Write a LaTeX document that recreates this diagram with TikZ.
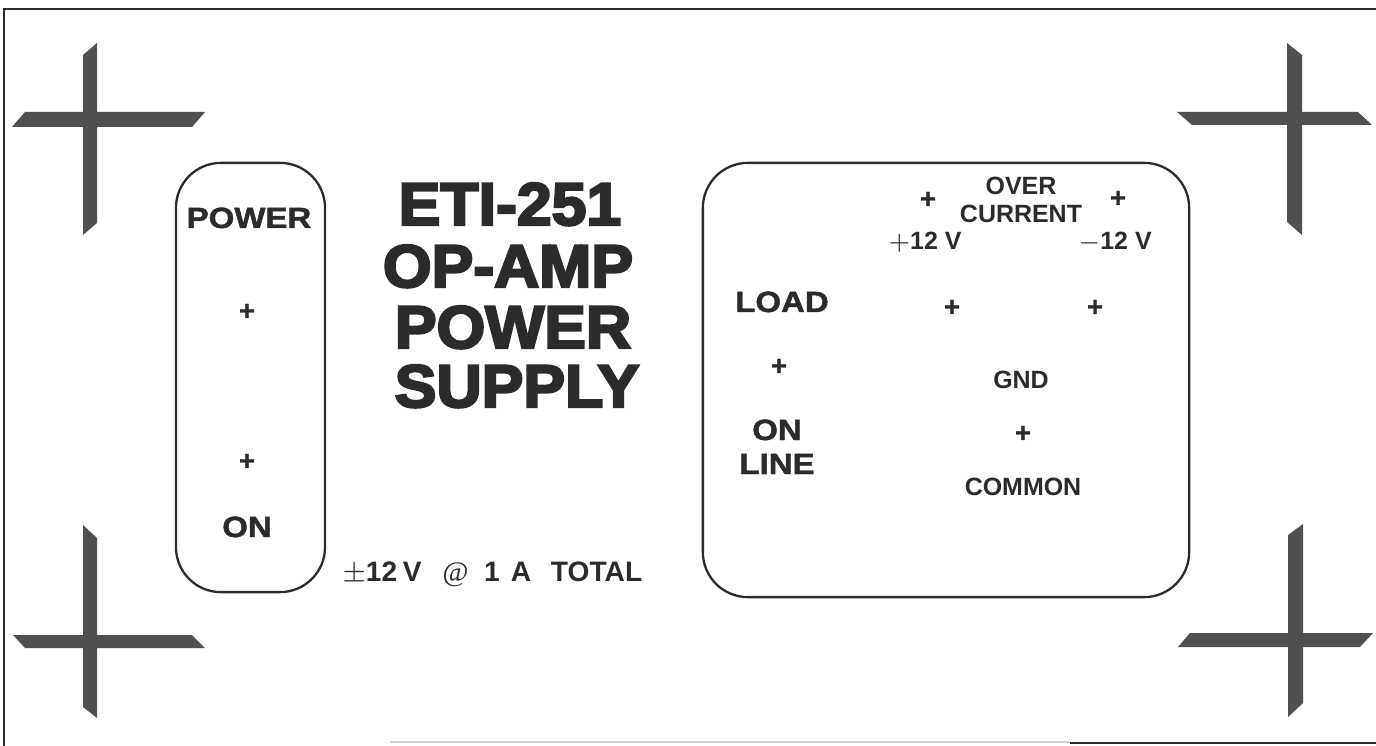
\documentclass[tikz,border=0pt]{standalone}
\usepackage{fontspec}
\setmainfont{Liberation Sans}
\newfontfamily\titlefont[FakeStretch=1.04,FakeBold=4]{Liberation Sans Bold}
\newfontfamily\widefont[FakeStretch=1.13,FakeBold=1.5]{Liberation Sans Bold}
\newfontfamily\jackfont[FakeBold=1]{Liberation Sans Bold}
\newfontfamily\atfont{Liberation Serif}
\usetikzlibrary{positioning}
\definecolor{ink}{HTML}{2B2B2B}
\definecolor{regcol}{HTML}{505050}

\begin{document}
\begin{tikzpicture}[x=0.01cm,y=-0.01cm,
        panel/.style={draw=ink,line width=0.65pt,rounded corners=0.45cm,inner sep=0},
        titletext/.style={anchor=base,inner sep=0,text=ink,font=\titlefont\fontsize{17.1}{18}\selectfont},
        widelabel/.style={anchor=base,inner sep=0,text=ink,font=\widefont\fontsize{8.3}{9}\selectfont},
        smalllabel/.style={anchor=base,inner sep=0,text=ink,font=\bfseries\fontsize{7.1}{8}\selectfont},
        jack/.style={inner sep=0,text=ink,font=\jackfont\fontsize{7.8}{8}\selectfont},
        regbar/.style={fill=regcol,draw=none}]
        \useasboundingbox (0,0) rectangle (1376,746);

        % outer edge of the panel
        \draw [ink,line width=0.8pt] (1376,9) -- (4,9) -- (4,746);
        \draw [gray!35,line width=0.6pt] (390,742) -- (1070,742);
        \draw [ink,line width=0.75pt] (1070,743) -- (1376,743);

        % registration marks
        \fill [regbar] (83,55) -- (97,43) -- (97,223) -- (83,235) -- cycle;
        \fill [regbar] (25,112) -- (205,112) -- (192,127) -- (12,127) -- cycle;
        \fill [regbar] (1287,43) -- (1302,55) -- (1302,235) -- (1287,222) -- cycle;
        \fill [regbar] (1177,112) -- (1358,112) -- (1372,125) -- (1192,125) -- cycle;
        \fill [regbar] (83,525) -- (97,538) -- (97,718) -- (83,707) -- cycle;
        \fill [regbar] (13,635) -- (192,635) -- (205,648) -- (25,648) -- cycle;
        \fill [regbar] (1288,535) -- (1303,524) -- (1303,703) -- (1288,717) -- cycle;
        \fill [regbar] (1190,633) -- (1373,633) -- (1360,647) -- (1178,647) -- cycle;

        % power switch panel
        \node [panel,minimum width=1.49cm,minimum height=4.29cm] (pwrpanel) at (250.5,377.5) {};
        \node [widelabel] (power) at (249,228) {POWER};
        \node [jack] (pwrtop) at (247,312) {+};
        \node [jack] (pwrbot) at (247,462) {+};
        \node [widelabel] (on) at (247,537) {ON};

        % title
        \node [titletext] (eti) at (510,225) {ETI-251};
        \node [titletext] (opamp) at (508,287) {OP-AMP};
        \node [titletext] (pwr) at (513,348) {POWER};
        \node [titletext] (supply) at (517,407) {SUPPLY};
        \node [smalllabel,anchor=base west,font=\bfseries\fontsize{8}{9}\selectfont] (rating) at (342,581)
            {$\pm$12\hspace{0.2em}V\hspace{0.75em}{\atfont\mdseries @}\hspace{0.55em}1\hspace{0.4em}A\hspace{0.7em}TOTAL};

        % output panel
        \node [panel,minimum width=4.86cm,minimum height=4.34cm] (outpanel) at (946,380) {};
        \node [jack] (ocpos) at (928,200) {+};
        \node [smalllabel] (over) at (1021,195) {OVER};
        \node [smalllabel] (current) at (1021,223) {CURRENT};
        \node [jack] (ocneg) at (1118,199) {+};
        \node [smalllabel] (plusv) at (925,250) {$+$12 V};
        \node [smalllabel] (minusv) at (1115,250) {$-$12 V};
        \node [widelabel] (load) at (782,312) {LOAD};
        \node [jack] (outpos) at (952,308) {+};
        \node [jack] (outneg) at (1095,308) {+};
        \node [jack] (online) at (779,367) {+};
        \node [smalllabel] (gnd) at (1021,389) {GND};
        \node [widelabel] (lineon) at (777,440) {ON};
        \node [widelabel] (line) at (777,474) {LINE};
        \node [jack] (common) at (1023,434) {+};
        \node [smalllabel] (commontxt) at (1023,495) {COMMON};
    \end{tikzpicture}
\end{document}
